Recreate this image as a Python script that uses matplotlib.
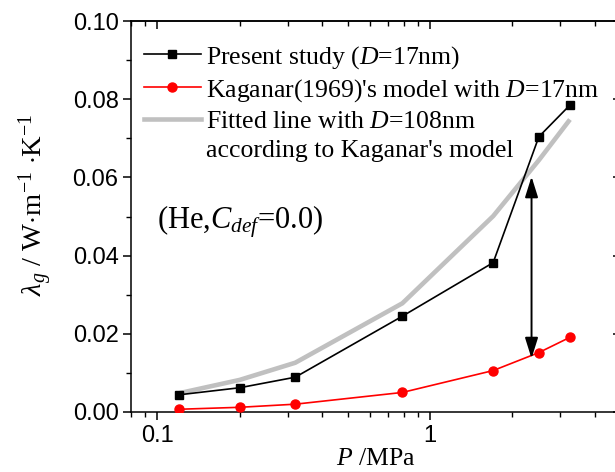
import matplotlib
matplotlib.use("Agg")
import matplotlib.pyplot as plt
from matplotlib.lines import Line2D
from matplotlib.ticker import MultipleLocator, LogLocator, NullFormatter, FixedLocator, FixedFormatter

plt.rcParams['mathtext.fontset'] = 'custom'
plt.rcParams['mathtext.rm'] = 'Liberation Serif'
plt.rcParams['mathtext.it'] = 'Liberation Serif:italic'
plt.rcParams['mathtext.bf'] = 'Liberation Serif:bold'

# Pressure (MPa) and gas thermal conductivity (W/m/K)
pressure = [0.12, 0.2, 0.32, 0.79, 1.7, 2.5, 3.25]
present_study = [0.0044, 0.0062, 0.0089, 0.0245, 0.0382, 0.0704, 0.0785]
kaganar_17nm = [0.0007, 0.0012, 0.0020, 0.0050, 0.0106, 0.0152, 0.0191]
fitted_108nm = [0.0048, 0.0082, 0.0126, 0.0278, 0.0501, 0.0644, 0.0748]

# Gap marked by the double arrow
arrow_p = 2.35
arrow_top = 0.0602
arrow_bottom = 0.0137

x_ticks = [0.1, 1]
x_tick_labels = ['0.1', '1']
y_ticks = [0.00, 0.02, 0.04, 0.06, 0.08, 0.10]
y_tick_labels = ['0.00', '0.02', '0.04', '0.06', '0.08', '0.10']

fig = plt.figure(figsize=(6.15, 4.72), dpi=100)
ax = fig.add_axes([131 / 615, 60 / 472, 490 / 615, 391 / 472])

ax.plot(pressure, fitted_108nm, color='#c0c0c0', lw=3.3, solid_capstyle='butt', zorder=2)
ax.plot(pressure, present_study, color='black', lw=1.2, marker='s', ms=6,
        mfc='black', mec='black', zorder=3)
ax.plot(pressure, kaganar_17nm, color='red', lw=1.2, marker='o', ms=6.5,
        mfc='red', mec='red', zorder=3)

ax.annotate('', xy=(arrow_p, arrow_bottom), xytext=(arrow_p, arrow_top),
            arrowprops=dict(arrowstyle='<|-|>,head_length=0.7,head_width=0.22',
                            color='black', lw=1.4, shrinkA=0, shrinkB=0,
                            mutation_scale=18), zorder=4)

ax.set_xscale('log')
ax.set_xlim(0.08, 5)
ax.set_ylim(0, 0.10)

ax.xaxis.set_major_locator(FixedLocator(x_ticks))
ax.xaxis.set_major_formatter(FixedFormatter(x_tick_labels))
ax.xaxis.set_minor_locator(LogLocator(base=10, subs=range(2, 10)))
ax.xaxis.set_minor_formatter(NullFormatter())
ax.yaxis.set_major_locator(FixedLocator(y_ticks))
ax.yaxis.set_major_formatter(FixedFormatter(y_tick_labels))
ax.yaxis.set_minor_locator(MultipleLocator(0.01))

for side in ax.spines.values():
    side.set_linewidth(1.1)

tick_font = 'Liberation Sans'
ax.tick_params(which='major', direction='out', length=6, width=1.1,
               labelsize=17, top=False, right=False, pad=3)
ax.tick_params(which='minor', direction='out', length=3.5, width=1.0,
               top=False, right=False)
for lbl in ax.get_xticklabels() + ax.get_yticklabels():
    lbl.set_fontfamily(tick_font)

# mirrored ticks pointing inward on the top and right
sec_x = ax.secondary_xaxis('top')
sec_x.xaxis.set_major_locator(FixedLocator(x_ticks))
sec_x.xaxis.set_minor_locator(LogLocator(base=10, subs=range(2, 10)))
sec_x.xaxis.set_major_formatter(NullFormatter())
sec_x.xaxis.set_minor_formatter(NullFormatter())
sec_x.tick_params(which='major', direction='in', length=6, width=1.1)
sec_x.tick_params(which='minor', direction='in', length=3.5, width=1.0)
sec_x.spines['top'].set_linewidth(1.1)

sec_y = ax.secondary_yaxis('right')
sec_y.yaxis.set_major_locator(FixedLocator(y_ticks))
sec_y.yaxis.set_minor_locator(MultipleLocator(0.01))
sec_y.yaxis.set_major_formatter(NullFormatter())
sec_y.tick_params(which='major', direction='in', length=6, width=1.1)
sec_y.tick_params(which='minor', direction='in', length=3.5, width=1.0)

serif = 'Liberation Serif'
ax.set_xlabel(r'$P$ /MPa', fontsize=18.5, fontfamily=serif, labelpad=1)
ax.set_ylabel(r'$\lambda_g$ / W$\cdot$m$^{-1}$ $\cdot$K$^{-1}$', fontsize=20.5,
              fontfamily=serif)
ax.yaxis.set_label_coords(-0.155, 0.53)

ax.text(0.053, 0.486, r'(He,$C_{def}$=0.0)', transform=ax.transAxes,
        fontsize=22, fontfamily=serif, va='center', ha='left')

handles = [
    Line2D([], [], color='black', lw=1.2, marker='s', ms=6, mfc='black'),
    Line2D([], [], color='red', lw=1.2, marker='o', ms=6.5, mfc='red'),
    Line2D([], [], color='#c0c0c0', lw=3.3),
    Line2D([], [], color='none', lw=0),
]
labels = [
    r'Present study ($D$=17nm)',
    r"Kaganar(1969)'s model with $D$=17nm",
    r'Fitted line with $D$=108nm',
    r"according to Kaganar's model",
]
leg = ax.legend(handles, labels, loc='upper left', bbox_to_anchor=(0.016, 0.955),
                frameon=False, prop={'family': serif, 'size': 18.5},
                handlelength=2.2, handletextpad=0.22, labelspacing=0.24,
                borderpad=0.2, borderaxespad=0)

fig.savefig('out.png', dpi=100)
